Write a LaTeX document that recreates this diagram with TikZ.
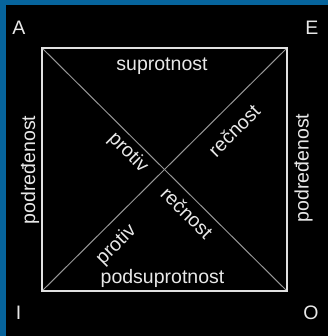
\documentclass[tikz,border=0pt]{standalone}
\usepackage{fontspec}
\setmainfont{Liberation Sans}
\definecolor{frameblue}{RGB}{6,100,156}
\definecolor{labelgray}{RGB}{232,232,232}
\definecolor{sqline}{RGB}{225,225,225}
\definecolor{diagline}{RGB}{150,150,150}
\begin{document}
\begin{tikzpicture}[x=1bp,y=-1bp,
  lbl/.style={inner sep=0pt, text=labelgray, font=\fontsize{19.5bp}{23bp}\selectfont},
  sqedge/.style={draw=sqline, line width=2bp},
  diagedge/.style={draw=diagline, line width=1bp}]
\useasboundingbox (0,0) rectangle (328,336);
\fill[frameblue] (0,0) rectangle (328,336);
\fill[black] (6,4.5) rectangle (328,336);
% square corners
\coordinate (cA) at (42,48);
\coordinate (cE) at (287,48);
\coordinate (cO) at (287,291);
\coordinate (cI) at (42,291);
% diagonals
\draw[diagedge] (cA) -- (cO);
\draw[diagedge] (cI) -- (cE);
% square
\draw[sqedge] (cA) -- (cE) -- (cO) -- (cI) -- cycle;
% corner letters
\node[lbl] (A) at (19,27.5) {A};
\node[lbl] (E) at (312,27.5) {E};
\node[lbl] (I) at (18.5,312.5) {I};
\node[lbl] (O) at (311,312.5) {O};
% side labels
\node[lbl] (top) at (162,66.5) {suprotnost};
\node[lbl] (bottom) at (162.5,278.5) {podsuprotnost};
\node[lbl, rotate=90] (left) at (30,170) {podređenost};
\node[lbl, rotate=90] (right) at (303.5,168) {podređenost};
% diagonal labels
\node[lbl, rotate=-45] (protivA) at (128,153) {protiv};
\node[lbl, rotate=-45] (recnostO) at (187,212.7) {rečnost};
\node[lbl, rotate=45] (recnostE) at (234,130.5) {rečnost};
\node[lbl, rotate=45] (protivI) at (116.5,245) {protiv};
\end{tikzpicture}
\end{document}
